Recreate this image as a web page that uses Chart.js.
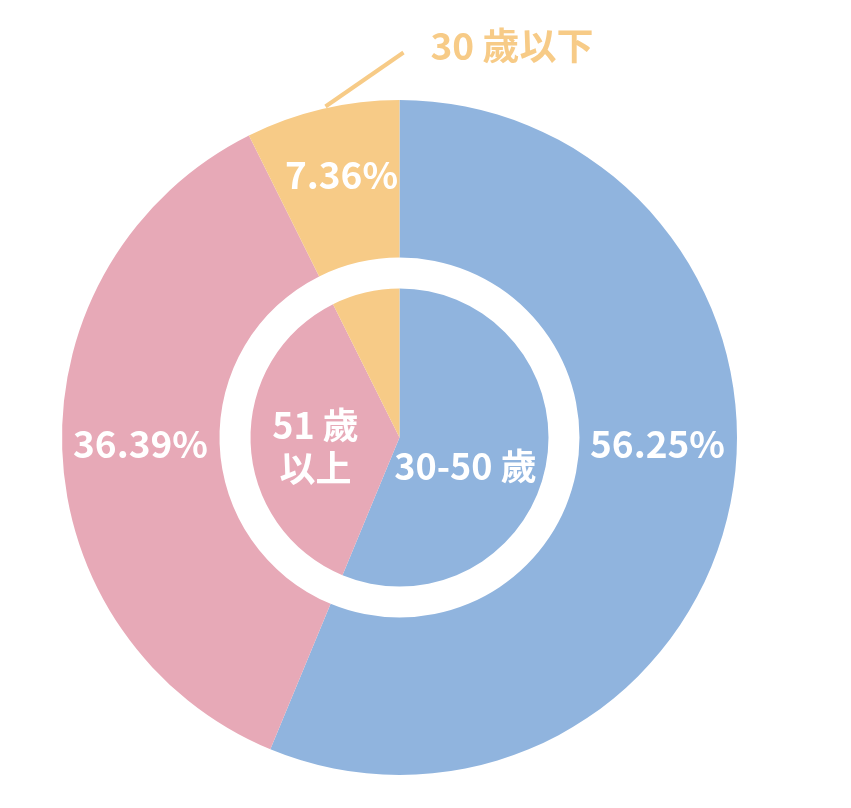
<!DOCTYPE html>
<html lang="zh-Hant">
<head>
<meta charset="utf-8">
<script src="https://cdn.jsdelivr.net/npm/chart.js@4"></script>
<style>
    html, body { margin: 0; padding: 0; background: #ffffff; }
    #wrap { width: 851px; height: 808px; position: relative; }
</style>
</head>
<body>
<div id="wrap"><canvas id="chart"></canvas></div>
<script>
// ── Data ──────────────────────────────────────────────────────────────────────
const categories = ["30-50 歲", "51 歲以上", "30 歲以下"];
const shares = [56.25, 36.39, 7.36];
const sliceColors = ["#90b4de", "#e7a9b7", "#f7cb87"];
const percentLabels = shares.map(v => `${v.toFixed(2)}%`);

const FONT = '"Noto Sans CJK TC", "Noto Sans", sans-serif';
const BASE_R = 337.5; // outer radius the offsets below were measured at

// ── Label plugin ──────────────────────────────────────────────────────────────
// offsets are relative to the chart centre, in units of BASE_R pixels
const labelPlugin = {
    id: "sliceLabels",
    afterDatasetsDraw(chart) {
        const ctx = chart.ctx;
        const outer = chart.getDatasetMeta(0).data;
        const inner = chart.getDatasetMeta(2).data;
        const cx = outer[0].x;
        const cy = outer[0].y;
        const k = outer[0].outerRadius / BASE_R;

        const text = (str, dx, dy, color, size, align) => {
            ctx.save();
            ctx.font = `bold ${size}px ${FONT}`;
            ctx.fillStyle = color;
            ctx.textAlign = align || "center";
            ctx.textBaseline = "middle";
            ctx.fillText(str, cx + dx * k, cy + dy * k);
            ctx.restore();
        };

        // outer ring — percentages
        text(percentLabels[0], 258, 6, "#ffffff", 37);
        text(percentLabels[1], -259, 6, "#ffffff", 37);
        text(percentLabels[2], -58, -263, "#ffffff", 37);

        // inner pie — category names
        if (inner.length) {
            text(categories[0], 66, 29, "#ffffff", 36);
            text("51 歲", -84, -12, "#ffffff", 36);
            text("以上", -84, 31, "#ffffff", 36);
        }

        // leader line + outside label for the small slice
        ctx.save();
        ctx.strokeStyle = sliceColors[2];
        ctx.lineWidth = 4;
        ctx.beginPath();
        ctx.moveTo(cx - 74 * k, cy - 331 * k);
        ctx.lineTo(cx + 4 * k, cy - 385 * k);
        ctx.stroke();
        ctx.restore();
        text(categories[2], 31, -392, sliceColors[2], 37, "left");
    }
};

// ── Chart ─────────────────────────────────────────────────────────────────────
const canvas = document.getElementById("chart");
canvas.width = 851;
canvas.height = 808;

new Chart(canvas, {
    type: "doughnut",
    data: {
        labels: categories,
        datasets: [
            {   // outer ring
                data: shares,
                backgroundColor: sliceColors,
                borderWidth: 0,
                weight: 157.5,
            },
            {   // white gap between ring and pie
                data: [1],
                backgroundColor: ["rgba(0,0,0,0)"],
                borderWidth: 0,
                weight: 31,
            },
            {   // inner pie
                data: shares,
                backgroundColor: sliceColors,
                borderWidth: 0,
                weight: 149,
            }
        ]
    },
    options: {
        responsive: false,
        animation: false,
        cutout: 0,
        hoverOffset: 0,
        layout: { padding: { left: 62, right: 114, top: 100, bottom: 33 } },
        plugins: {
            legend: { display: false },
            tooltip: { enabled: false }
        },
        events: []
    },
    plugins: [labelPlugin]
});
</script>
</body>
</html>
